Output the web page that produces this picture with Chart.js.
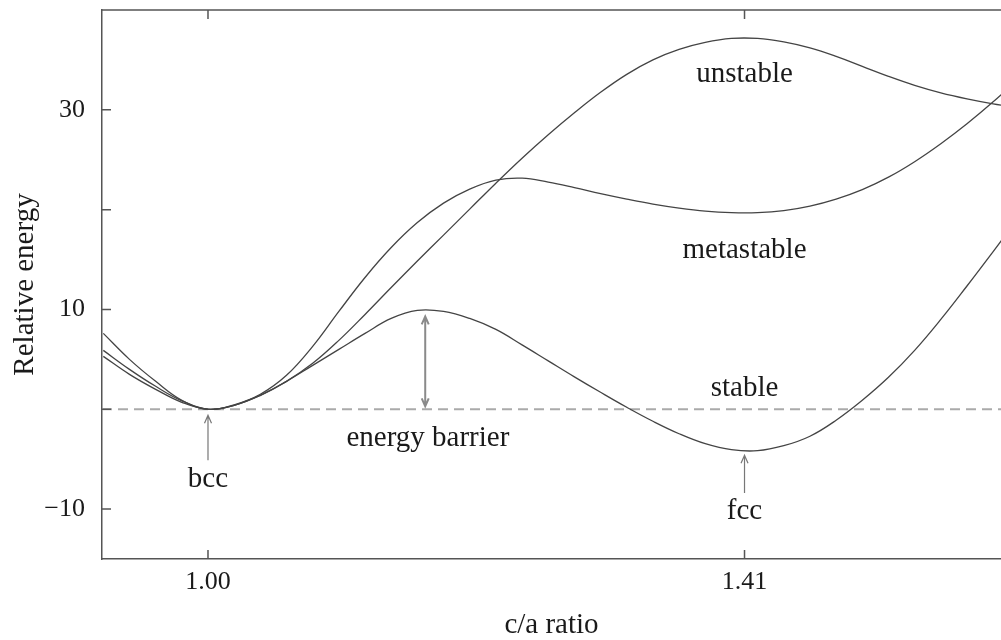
<!DOCTYPE html>
<html>
<head>
<meta charset="utf-8">
<script src="https://cdn.jsdelivr.net/npm/chart.js@4.4.1/dist/chart.umd.min.js"></script>
<style>
  html, body { margin: 0; padding: 0; background: #fff; overflow: hidden; }
</style>
</head>
<body>
<canvas id="energyChart" width="1001" height="640"></canvas>
<script>
// c/a ratio samples and the three energy curves
const cRatio = [0.92, 0.94, 0.96, 0.98, 1.00, 1.02, 1.04, 1.06, 1.08, 1.10, 1.12, 1.14,
                1.16, 1.18, 1.20, 1.22, 1.24, 1.26, 1.28, 1.30, 1.32, 1.34, 1.36, 1.38,
                1.40, 1.42, 1.44, 1.46, 1.48, 1.50, 1.52, 1.54, 1.56, 1.58, 1.60, 1.62];
const stable = [5.3, 3.5, 2.0, 0.7, 0, 0.4, 1.4, 2.8, 4.4, 6.0, 7.6, 9.1,
                9.9, 9.8, 9.1, 8.0, 6.45, 4.85, 3.25, 1.7, 0.2, -1.2, -2.45, -3.45,
                -4.05, -4.15, -3.65, -2.7, -1.1, 0.9, 3.2, 5.9, 9.0, 12.35, 15.8, 19.3];
const metastable = [7.6, 5.0, 2.8, 0.9, 0, 0.45, 1.5, 3.4, 6.3, 9.8, 13.2, 16.2,
                    18.7, 20.65, 22.05, 22.95, 23.15, 22.75, 22.2, 21.6, 21.05, 20.55, 20.15, 19.85,
                    19.7, 19.7, 19.9, 20.35, 21.05, 22.0, 23.25, 24.8, 26.6, 28.6, 30.8, 33.2];
const unstable = [5.9, 4.0, 2.3, 0.85, 0, 0.4, 1.4, 2.8, 4.6, 6.9, 9.5, 12.2,
                  14.85, 17.45, 20.05, 22.65, 25.15, 27.5, 29.7, 31.75, 33.55, 35.0, 36.05, 36.75,
                  37.15, 37.15, 36.8, 36.2, 35.35, 34.35, 33.35, 32.45, 31.7, 31.1, 30.6, 30.2];

const xRange = [0.919, 1.606];
const yRange = [-15, 40];
const xTicks = [1.00, 1.41];
const yTicks = [-10, 0, 10, 20, 30];
const yLabelled = [-10, 10, 30];

// text notes and arrows, in data units
const noteText = ['unstable', 'metastable', 'stable', 'energy barrier', 'bcc', 'fcc'];
const noteX = [1.41, 1.41, 1.41, 1.168, 1.00, 1.41];
const noteY = [33.5, 15.9, 2.1, -2.9, -7.0, -10.2];
const arrowX = [1.00, 1.41, 1.166];
const arrowFrom = [-5.1, -8.4, 0.3];
const arrowTo = [-0.6, -4.6, 9.3];

const serif = '"Liberation Serif", "Times New Roman", serif';

function toPoints(values) {
  return cRatio.map((c, i) => ({ x: c, y: values[i] }));
}

function arrowHead(ctx, px, py, dir) {
  ctx.moveTo(px - 3.5, py + dir * 8);
  ctx.lineTo(px, py);
  ctx.lineTo(px + 3.5, py + dir * 8);
}

// drop the automatic label padding so the plot box fills the canvas like the original
function noEdgePadding(scale) {
  scale.paddingTop = 0;
  scale.paddingBottom = 0;
  scale.paddingLeft = 0;
  scale.paddingRight = 0;
}

const frameAndNotes = {
  id: 'frameAndNotes',
  afterDatasetsDraw(chart) {
    const { ctx, chartArea: a, scales: { x, y } } = chart;
    ctx.save();

    // top frame line + inward ticks
    ctx.strokeStyle = '#555';
    ctx.lineWidth = 1.5;
    ctx.beginPath();
    ctx.moveTo(a.left, a.top);
    ctx.lineTo(a.right, a.top);
    yTicks.forEach(v => {
      const py = y.getPixelForValue(v);
      ctx.moveTo(a.left, py);
      ctx.lineTo(a.left + 9, py);
    });
    xTicks.forEach(v => {
      const px = x.getPixelForValue(v);
      ctx.moveTo(px, a.bottom);
      ctx.lineTo(px, a.bottom - 9);
      ctx.moveTo(px, a.top);
      ctx.lineTo(px, a.top + 9);
    });
    ctx.stroke();

    // arrows
    arrowX.forEach((ax, i) => {
      const px = x.getPixelForValue(ax);
      const p1 = y.getPixelForValue(arrowFrom[i]);
      const p2 = y.getPixelForValue(arrowTo[i]);
      const both = i === 2;
      ctx.strokeStyle = both ? '#8a8a8a' : '#777';
      ctx.lineWidth = both ? 2 : 1.2;
      ctx.beginPath();
      ctx.moveTo(px, p1);
      ctx.lineTo(px, p2);
      arrowHead(ctx, px, p2, 1);
      if (both) arrowHead(ctx, px, p1, -1);
      ctx.stroke();
    });

    // labels
    ctx.fillStyle = '#1a1a1a';
    ctx.font = '29px ' + serif;
    ctx.textAlign = 'center';
    ctx.textBaseline = 'middle';
    noteText.forEach((t, i) => {
      ctx.fillText(t, x.getPixelForValue(noteX[i]), y.getPixelForValue(noteY[i]));
    });
    ctx.restore();
  }
};

const ctx = document.getElementById('energyChart').getContext('2d');
new Chart(ctx, {
  type: 'line',
  data: {
    datasets: [
      { label: 'unstable', data: toPoints(unstable) },
      { label: 'metastable', data: toPoints(metastable) },
      { label: 'stable', data: toPoints(stable) },
      {
        label: 'reference',
        data: [{ x: xRange[0], y: 0 }, { x: xRange[1], y: 0 }],
        borderColor: '#aaaaaa',
        borderWidth: 2,
        borderDash: [10, 6],
        tension: 0
      }
    ]
  },
  options: {
    responsive: false,
    animation: false,
    devicePixelRatio: 1,
    layout: { autoPadding: false, padding: { top: 10, right: 0, bottom: 0, left: 0 } },
    elements: {
      line: { borderColor: '#444', borderWidth: 1.3, tension: 0.4, fill: false },
      point: { radius: 0, hoverRadius: 0 }
    },
    plugins: {
      legend: { display: false },
      tooltip: { enabled: false }
    },
    scales: {
      x: {
        type: 'linear',
        position: 'bottom',
        min: xRange[0],
        max: xRange[1],
        afterBuildTicks: scale => { scale.ticks = xTicks.map(v => ({ value: v })); },
        afterFit: scale => { scale.height = 81; noEdgePadding(scale); },
        ticks: {
          callback: v => v.toFixed(2),
          color: '#1a1a1a',
          padding: 10,
          font: { family: serif, size: 26, lineHeight: 1 }
        },
        grid: { drawOnChartArea: false, drawTicks: false },
        border: { display: true, color: '#555', width: 1.5 },
        title: {
          display: true,
          text: 'c/a ratio',
          color: '#1a1a1a',
          padding: { top: 0, bottom: 0 },
          font: { family: serif, size: 29, lineHeight: 1 }
        }
      },
      y: {
        type: 'linear',
        min: yRange[0],
        max: yRange[1],
        afterBuildTicks: scale => { scale.ticks = yTicks.map(v => ({ value: v })); },
        afterFit: scale => { scale.width = 102; noEdgePadding(scale); },
        ticks: {
          callback: v => yLabelled.includes(v) ? (v < 0 ? '\u2212' + Math.abs(v) : String(v)) : '',
          color: '#1a1a1a',
          padding: 17,
          font: { family: serif, size: 26, lineHeight: 1 }
        },
        grid: { drawOnChartArea: false, drawTicks: false },
        border: { display: true, color: '#555', width: 1.5 },
        title: {
          display: true,
          text: 'Relative energy',
          color: '#1a1a1a',
          padding: { top: 11, bottom: 0 },
          font: { family: serif, size: 29, lineHeight: 1 }
        }
      }
    }
  },
  plugins: [frameAndNotes]
});
</script>
</body>
</html>
